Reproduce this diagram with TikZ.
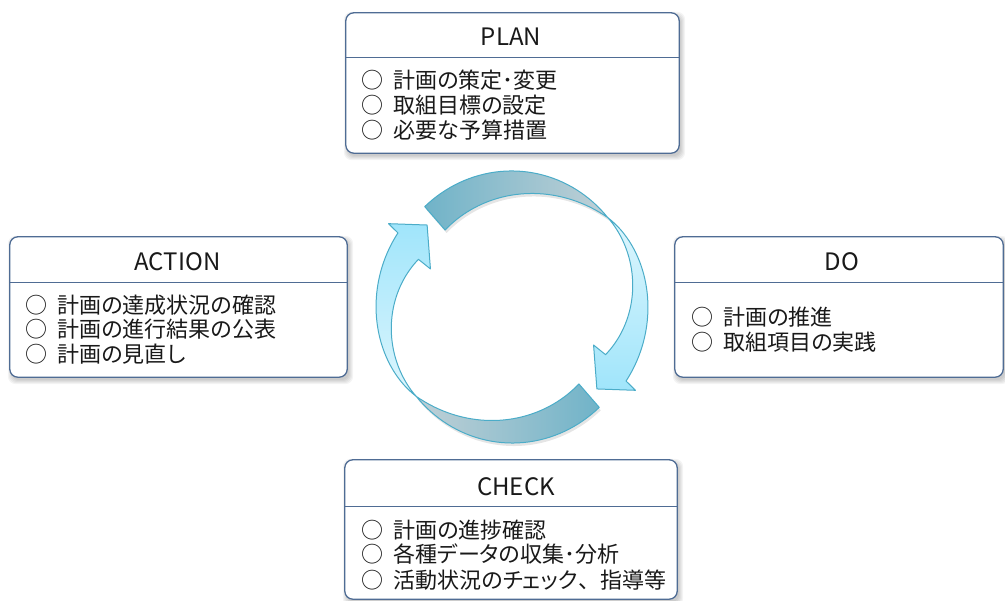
\documentclass[tikz,border=0pt]{standalone}
\usepackage{fontspec}
\setmainfont{Noto Sans CJK JP}
\newfontfamily\jpp{Noto Sans CJK JP}[RawFeature=+palt]
\usetikzlibrary{calc}
\definecolor{boxline}{RGB}{79,108,148}
\definecolor{ringline}{RGB}{75,172,200}
\definecolor{darkA}{RGB}{112,179,200}
\definecolor{grayA}{RGB}{192,208,214}
\definecolor{lightA}{RGB}{222,246,253}
\definecolor{cyanA}{RGB}{160,229,251}
\definecolor{txt}{RGB}{25,25,25}
\newcommand\circitem{○\hspace{0.45em}\jpp}
\newcommand\boxshadow[1]{%
  \foreach \k in {0,...,4}{%
    \fill[black,opacity=0.045,rounded corners=8pt]
      ([shift={(2-\k,-3-\k)}]#1.south west) rectangle ([shift={(2+\k,-3+\k)}]#1.north east);}}
% radius profiles (argument: screen angle of arrow A)
\newcommand\RDo[1]{131+2*((#1-43)/88)+4*sin(((#1-43)/88)*180)}
\newcommand\RDi[1]{131-29*(1.5*((#1-43)/88)-0.5*((#1-43)/88)^2)}
\newcommand\RLo[1]{136-5*(1-(43-#1)/76)^6}
\newcommand\RLi[1]{131-26*((43-#1)/70)*sqrt((43-#1)/70)}
\begin{document}
\begin{tikzpicture}[x=1pt,y=1pt,
  panel/.style={draw=boxline, line width=1.3pt, fill=white, rounded corners=8pt, inner sep=0pt},
  divider/.style={draw=boxline, line width=1.3pt},
  ttl/.style={font=\fontsize{24}{24}\selectfont, text=txt, anchor=base, inner sep=0pt},
  itm/.style={font=\fontsize{22}{22}\selectfont, text=txt, anchor=base west, inner sep=0pt},
  ring/.style={draw=ringline, line width=1pt, line join=round}]
\useasboundingbox (0,0) rectangle (1005,601);

% ---------- panels (geometry only) ----------
\path (512.5,518) node[minimum width=333pt, minimum height=140pt, inner sep=0pt] (plan) {};
\path (178.5,294) node[minimum width=337pt, minimum height=140pt, inner sep=0pt] (action) {};
\path (839,294)   node[minimum width=328pt, minimum height=140pt, inner sep=0pt] (do) {};
\path (511,71.5)  node[minimum width=332pt, minimum height=139pt, inner sep=0pt] (check) {};

\boxshadow{plan}
\boxshadow{action}
\boxshadow{do}
\boxshadow{check}

\draw[panel] (plan.south west) rectangle (plan.north east);
\draw[panel] (action.south west) rectangle (action.north east);
\draw[panel] (do.south west) rectangle (do.north east);
\draw[panel] (check.south west) rectangle (check.north east);

\draw[divider] ([yshift=-45pt]plan.north west) -- ([yshift=-45pt]plan.north east);
\draw[divider] ([yshift=-46pt]action.north west) -- ([yshift=-46pt]action.north east);
\draw[divider] ([yshift=-46pt]do.north west) -- ([yshift=-46pt]do.north east);
\draw[divider] ([yshift=-47pt]check.north west) -- ([yshift=-47pt]check.north east);

% ---------- titles ----------
\node[ttl] (planT)   at (511,555.2) {PLAN};
\node[ttl] (actionT) at (177.5,330.2) {ACTION};
\node[ttl] (doT)     at (842,330.2) {DO};
\node[ttl] (checkT)  at (516,105.2) {CHECK};

% ---------- items ----------
\node[itm] (p1) at (361.5,512) {\circitem 計画の策定･変更};
\node[itm] (p2) at (361.5,487) {\circitem 取組目標の設定};
\node[itm] (p3) at (361.5,462) {\circitem 必要な予算措置};

\node[itm] (a1) at (25.5,287) {\circitem 計画の達成状況の確認};
\node[itm] (a2) at (25.5,263) {\circitem 計画の進行結果の公表};
\node[itm] (a3) at (25.5,238) {\circitem 計画の見直し};

\node[itm] (d1) at (691.5,275) {\circitem 計画の推進};
\node[itm] (d2) at (691.5,250) {\circitem 取組項目の実践};

\node[itm] (c1) at (361.5,62) {\circitem 計画の進捗確認};
\node[itm] (c2) at (361.5,38) {\circitem 各種データの収集･分析};
\node[itm] (c3) at (361.5,12) {\circitem 活動状況のチェック{\rmfamily 、}指導等};

% ---------- cycle arrows ----------
\begin{scope}[shift={(512,294)}]
  % faint shadows of the dark back parts
  \begin{scope}[shift={(1.5,-3)}]
    \fill[black,opacity=0.10]
      plot[domain=131:43, samples=40, variable=\t] ({\t}:{\RDo{\t}})
      -- plot[domain=43:131, samples=40, variable=\t] ({\t}:{\RDi{\t}}) -- cycle;
    \fill[black,opacity=0.10]
      plot[domain=131:43, samples=40, variable=\t] ({\t+180}:{\RDo{\t}})
      -- plot[domain=43:131, samples=40, variable=\t] ({\t+180}:{\RDi{\t}}) -- cycle;
  \end{scope}
  % arrow A : top -> right (dark back part)
  \shadedraw[ring, left color=darkA, right color=grayA]
    plot[domain=131:43, samples=40, variable=\t] ({\t}:{\RDo{\t}})
    -- plot[domain=43:131, samples=40, variable=\t] ({\t}:{\RDi{\t}}) -- cycle;
  % arrow A : light front part with head
  \shadedraw[ring, top color=lightA, bottom color=cyanA]
    plot[domain=43:-33, samples=40, variable=\t] ({\t}:{\RLo{\t}})
    -- (-34:149) -- (-44:118) -- (-25:90) -- (-27:105)
    -- plot[domain=-27:43, samples=40, variable=\t] ({\t}:{\RLi{\t}}) -- cycle;
  % arrow B : bottom -> left (dark back part)
  \shadedraw[ring, left color=grayA, right color=darkA]
    plot[domain=131:43, samples=40, variable=\t] ({\t+180}:{\RDo{\t}})
    -- plot[domain=43:131, samples=40, variable=\t] ({\t+180}:{\RDi{\t}}) -- cycle;
  % arrow B : light front part with head
  \shadedraw[ring, top color=cyanA, bottom color=lightA]
    plot[domain=43:-33, samples=40, variable=\t] ({\t+180}:{\RLo{\t}})
    -- (146:149) -- (136:118) -- (155:90) -- (153:105)
    -- plot[domain=-27:43, samples=40, variable=\t] ({\t+180}:{\RLi{\t}}) -- cycle;
\end{scope}
\end{tikzpicture}
\end{document}
